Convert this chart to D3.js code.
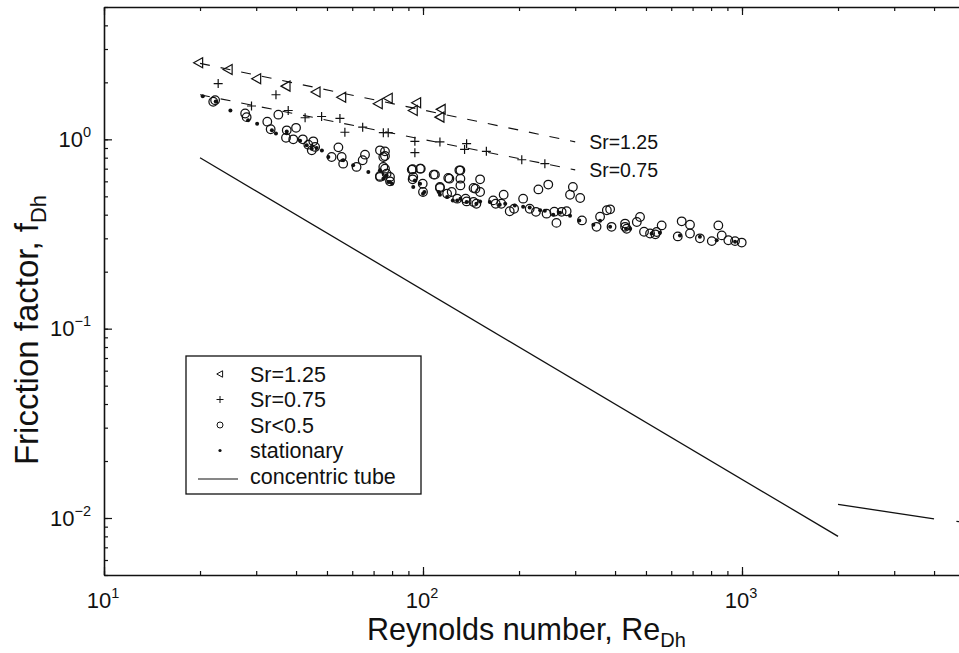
<!DOCTYPE html>
<html>
<head>
<meta charset="utf-8">
<script src="https://cdn.jsdelivr.net/npm/d3@7"></script>
<style>
body { margin: 0; background: #fff; }
svg { display: block; font-family: "Liberation Sans", Arial, Helvetica, sans-serif; }
</style>
</head>
<body>
<svg id="viz" width="959" height="653"></svg>
<script>
// measured points, [Re, f]
var sr125 = [ [19.8,2.54],[24.5,2.34],[30.1,2.09],[37.2,1.91],[46.2,1.78],[55.6,1.67],[72.4,1.54],[77.8,1.65],
	[95.5,1.56],[93.2,1.42],[114,1.44],[113,1.31] ];

var sr075 = [ [22.8,1.97],[29.0,1.50],[34.6,1.72],[37.8,1.42],[42.7,1.30],[48.1,1.32],[54.9,1.29],[56.9,1.09],
	[64.7,1.16],[75.1,1.085],[77.8,1.085],[94.3,0.976],[94.3,0.85],[113,0.969],[137,0.949],[135,0.885],
	[158,0.864],[204,0.78],[241,0.744] ];

var sr05 = [ [22.3,1.61],[22.0,1.58],[27.7,1.37],[28.0,1.31],[32.5,1.24],[35.2,1.35],[33.3,1.13],[37.4,1.116],
	[40.0,1.15],[37.2,1.02],[39.2,1.00],[42.0,1.00],[43.7,0.937],[45.3,0.976],[45.9,0.912],[44.8,0.875],
	[54.3,0.907],[51.7,0.807],[55.6,0.807],[56.2,0.744],[61.9,0.715],[64.7,0.775],[65.8,0.83],[76.0,0.864],
	[76.0,0.817],[73.3,0.633],[76.0,0.70],[78.8,0.633],[92.8,0.695],[97.9,0.70],[93.2,0.633],[109,0.651],
	[120,0.625],[131,0.686],[131,0.62],[144,0.553],[113,0.553],[119,0.516],[128,0.486],[137,0.47],[144,0.467],
	[73.3,0.875],[75.1,0.807],[75.1,0.715],[76.9,0.659],[73.3,0.641],[78.8,0.60],[92.2,0.692],[98.4,0.70],
	[92.8,0.615],[99.8,0.583],[100,0.527],[108,0.651],[113,0.56],[121,0.62],[130,0.686],[131,0.571],[123,0.527],
	[146,0.549],[151,0.615],[151,0.527],[136,0.486],[147,0.457],[166,0.476],[179,0.51],[176,0.457],[187,0.417],
	[206,0.486],[230,0.544],[247,0.577],[226,0.414],[244,0.405],[262,0.362],[272,0.414],[282,0.417],[295,0.56],
	[289,0.51],[311,0.49],[315,0.373],[350,0.345],[377,0.422],[386,0.427],[390,0.345],[430,0.359],[435,0.337],
	[468,0.366],[479,0.389],[515,0.318],[540,0.324],[560,0.351],[629,0.307],[647,0.369],[687,0.354],[687,0.318],
	[804,0.29],[843,0.351],[864,0.311],[906,0.293],[998,0.285],
	[169,0.457],[193,0.43],[216,0.43],[258,0.415],[359,0.39],[430,0.345],[493,0.325],[535,0.315],[738,0.30],[951,0.29] ];

var stationary = [ [20.4,1.69],[22.4,1.585],[24.9,1.42],[28.3,1.26],[30.2,1.21],[33.6,1.116],[34.6,1.072],
	[37.4,1.10],[43.2,0.93],[44.8,0.893],[46.4,0.90],[50.5,0.807],[56.2,0.775],[60.4,0.729],[67.4,0.673],
	[73.3,0.686],[76.9,0.645],[77.8,0.596],[94.3,0.607],[97.9,0.583],[101,0.527],[112,0.527],[119,0.496],
	[128,0.476],[137,0.467],[147,0.457],[78.8,0.596],[93.2,0.56],[100,0.516],[113,0.51],[124,0.476],[162,0.467],
	[174,0.452],[206,0.44],[233,0.422],[256,0.40],[309,0.373],[342,0.354],[386,0.345],[433,0.337],[521,0.318],
	[639,0.311],[833,0.293],
	[131,0.486],[151,0.469],[181,0.457],[194,0.447],[216,0.436],[241,0.42],[269,0.41],[289,0.395],[359,0.372],
	[446,0.337],[553,0.321],[738,0.306],[951,0.288],[75.1,0.62],[80,0.583],[41.2,0.984],[48.2,0.873] ];

var fit125 = [ [20,2.52],[300,0.97] ];
var fit075 = [ [20,1.72],[300,0.69] ];
var tubeLines = [
	[ [20,0.8],[2000,0.008] ],
	[ [2000,0.0118],[4000,0.0099] ],
	[ [4700,0.0096],[6000,0.0091] ]
];

var xMajor = [10, 100, 1000];
var yMajor = [0.01, 0.1, 1];
var legendLabels = [ 'Sr=1.25', 'Sr=0.75', 'Sr<0.5', 'stationary', 'concentric tube' ];
var fitLabels = [ { text: 'Sr=1.25', at: [300, 0.97] }, { text: 'Sr=0.75', at: [300, 0.69] } ];

var ink = '#111';
var svg = d3.select( '#viz' );

var x = d3.scaleLog().domain( [ 10, 5000 ] ).range( [ 104, 104 + 319 * Math.log10( 500 ) ] );
var y = d3.scaleLog().domain( [ 0.005, 5 ] ).range( [ 575, 7 ] );

// axes, ticks pointing inward
function drawAxis( axisFn, scale, tr, major ) {
	var g = svg.append( 'g' ).attr( 'transform', tr );
	g.call( axisFn( scale ).tickValues( scale.ticks() ).tickSize( -4 ).tickSizeOuter( 0 ).tickFormat( '' ) );
	g.append( 'g' ).call( axisFn( scale ).tickValues( major ).tickSize( -8 ).tickSizeOuter( 0 ).tickFormat( '' ) )
		.select( '.domain' ).remove();
	g.selectAll( 'path, line' ).attr( 'stroke', ink );
	g.selectAll( 'line' ).attr( 'stroke-width', 1.2 );
	g.select( '.domain' ).attr( 'stroke-width', 1.6 );
}
drawAxis( d3.axisBottom, x, 'translate(0,575)', xMajor );
drawAxis( d3.axisTop, x, 'translate(0,7)', xMajor );
drawAxis( d3.axisLeft, y, 'translate(104,0)', yMajor );

// tick labels as 10^n
function expo( v ) {
	var n = Math.round( Math.log10( v ) );
	return n < 0 ? '\u2212' + ( -n ) : '' + n;
}
svg.selectAll( 'text.xtick' )
	.data( xMajor )
	.enter()
	.append( 'text' )
	.classed( 'xtick', true )
	.attr( 'x', function ( d ) { return x( d ) - 1; } )
	.attr( 'y', 608 )
	.attr( 'text-anchor', 'middle' )
	.attr( 'font-size', 22 )
	.attr( 'fill', ink )
	.each( function ( d ) {
		d3.select( this ).append( 'tspan' ).text( '10' );
		d3.select( this ).append( 'tspan' ).attr( 'dy', -10 ).attr( 'font-size', 14.5 ).text( expo( d ) );
	} );
svg.selectAll( 'text.ytick' )
	.data( yMajor )
	.enter()
	.append( 'text' )
	.classed( 'ytick', true )
	.attr( 'x', 91 )
	.attr( 'y', function ( d ) { return y( d ) + 7.5; } )
	.attr( 'text-anchor', 'end' )
	.attr( 'font-size', 22 )
	.attr( 'fill', ink )
	.each( function ( d ) {
		d3.select( this ).append( 'tspan' ).text( '10' );
		d3.select( this ).append( 'tspan' ).attr( 'dy', -10 ).attr( 'font-size', 14.5 ).text( expo( d ) );
	} );

// axis titles
var xt = svg.append( 'text' )
	.attr( 'x', 367 ).attr( 'y', 640 )
	.attr( 'font-size', 30.5 ).attr( 'fill', ink );
xt.append( 'tspan' ).text( 'Reynolds number, Re' );
xt.append( 'tspan' ).attr( 'dy', 7 ).attr( 'font-size', 20 ).text( 'Dh' );

var yt = svg.append( 'text' )
	.attr( 'transform', 'translate(38,330) rotate(-90)' )
	.attr( 'text-anchor', 'middle' )
	.attr( 'font-size', 33 ).attr( 'fill', ink );
yt.append( 'tspan' ).text( 'Fricction factor, f' );
yt.append( 'tspan' ).attr( 'dy', 8 ).attr( 'font-size', 22 ).text( 'Dh' );

// lines
var line = d3.line()
	.x( function ( d ) { return x( d[0] ); } )
	.y( function ( d ) { return y( d[1] ); } );

svg.selectAll( 'path.tube' )
	.data( tubeLines )
	.enter()
	.append( 'path' )
	.classed( 'tube', true )
	.attr( 'd', line )
	.attr( 'fill', 'none' )
	.attr( 'stroke', ink )
	.attr( 'stroke-width', 1.3 );

svg.selectAll( 'path.fit' )
	.data( [ fit125, fit075 ] )
	.enter()
	.append( 'path' )
	.classed( 'fit', true )
	.attr( 'd', line )
	.attr( 'fill', 'none' )
	.attr( 'stroke', ink )
	.attr( 'stroke-width', 1.1 )
	.attr( 'stroke-dasharray', '10,11' );

svg.selectAll( 'text.fitlabel' )
	.data( fitLabels )
	.enter()
	.append( 'text' )
	.classed( 'fitlabel', true )
	.attr( 'x', function ( d ) { return x( d.at[0] ) + 14; } )
	.attr( 'y', function ( d ) { return y( d.at[1] ) + 7; } )
	.attr( 'font-size', 19.5 )
	.attr( 'fill', ink )
	.text( function ( d ) { return d.text; } );

// markers
var triPath = function ( s ) { return 'M' + ( -5 * s ) + ',0L' + ( 4 * s ) + ',' + ( -5 * s ) + 'L' + ( 4 * s ) + ',' + ( 5 * s ) + 'Z'; };
var plusPath = function ( s ) { return 'M' + ( -s ) + ',0H' + s + 'M0,' + ( -s ) + 'V' + s; };

svg.selectAll( 'circle.sr05' )
	.data( sr05 )
	.enter()
	.append( 'circle' )
	.classed( 'sr05', true )
	.attr( 'cx', function ( d ) { return x( d[0] ); } )
	.attr( 'cy', function ( d ) { return y( d[1] ); } )
	.attr( 'r', 4.3 )
	.attr( 'fill', 'none' )
	.attr( 'stroke', ink )
	.attr( 'stroke-width', 1.25 );

svg.selectAll( 'circle.stat' )
	.data( stationary )
	.enter()
	.append( 'circle' )
	.classed( 'stat', true )
	.attr( 'cx', function ( d ) { return x( d[0] ); } )
	.attr( 'cy', function ( d ) { return y( d[1] ); } )
	.attr( 'r', 2 )
	.attr( 'fill', ink );

svg.selectAll( 'path.sr075' )
	.data( sr075 )
	.enter()
	.append( 'path' )
	.classed( 'sr075', true )
	.attr( 'transform', function ( d ) { return 'translate(' + x( d[0] ) + ',' + y( d[1] ) + ')'; } )
	.attr( 'd', plusPath( 4.5 ) )
	.attr( 'stroke', ink )
	.attr( 'stroke-width', 1.2 );

svg.selectAll( 'path.sr125' )
	.data( sr125 )
	.enter()
	.append( 'path' )
	.classed( 'sr125', true )
	.attr( 'transform', function ( d ) { return 'translate(' + x( d[0] ) + ',' + y( d[1] ) + ')'; } )
	.attr( 'd', triPath( 1 ) )
	.attr( 'fill', 'none' )
	.attr( 'stroke', ink )
	.attr( 'stroke-width', 1.2 );

// legend
var lg = svg.append( 'g' ).attr( 'transform', 'translate(186,356)' );
lg.append( 'rect' )
	.attr( 'width', 235 ).attr( 'height', 138 )
	.attr( 'fill', '#fff' ).attr( 'stroke', ink ).attr( 'stroke-width', 1.3 );
var rows = lg.selectAll( 'g.row' )
	.data( legendLabels )
	.enter()
	.append( 'g' )
	.classed( 'row', true )
	.attr( 'transform', function ( d, i ) { return 'translate(0,' + ( 18 + i * 25.5 ) + ')'; } );
rows.append( 'text' )
	.attr( 'x', 64 ).attr( 'y', 7.5 )
	.attr( 'font-size', 21.5 ).attr( 'fill', ink )
	.text( function ( d ) { return d; } );
rows.each( function ( d, i ) {
	var r = d3.select( this ).append( 'g' ).attr( 'transform', 'translate(34,0)' );
	if ( i === 0 ) r.append( 'path' ).attr( 'd', triPath( 0.65 ) ).attr( 'fill', 'none' ).attr( 'stroke', ink );
	if ( i === 1 ) r.append( 'path' ).attr( 'd', plusPath( 3.5 ) ).attr( 'stroke', ink );
	if ( i === 2 ) r.append( 'circle' ).attr( 'r', 3 ).attr( 'fill', 'none' ).attr( 'stroke', ink );
	if ( i === 3 ) r.append( 'circle' ).attr( 'r', 1.6 ).attr( 'fill', ink );
	if ( i === 4 ) r.append( 'line' ).attr( 'x1', -22 ).attr( 'x2', 18 ).attr( 'y1', 3 ).attr( 'y2', 3 ).attr( 'stroke', ink ).attr( 'stroke-width', 1.2 );
} );
</script>
</body>
</html>
